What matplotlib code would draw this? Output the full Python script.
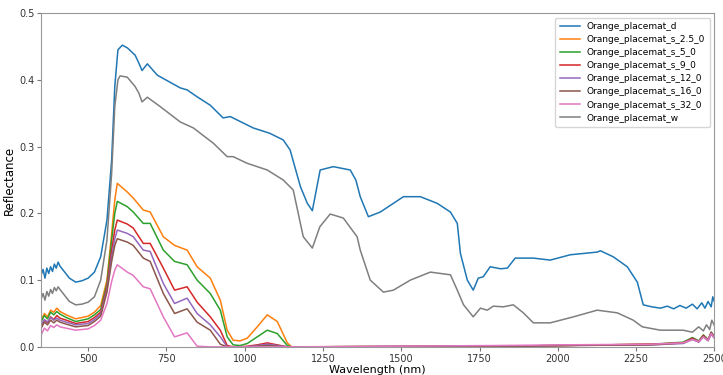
import matplotlib.pyplot as plt

# values (wavelength in nm, reflectance)
wl_d = [350, 356, 362, 368, 374, 380, 386, 392, 398, 404, 410, 420, 440, 460, 480, 500, 520, 540, 560,
        575, 585, 595, 609, 625, 650, 662, 672, 689, 721, 794, 816, 850, 890, 931, 954, 1027, 1080, 1123,
        1145, 1178, 1200, 1216, 1241, 1283, 1337, 1355, 1369, 1395, 1433, 1507, 1561, 1615, 1657, 1679,
        1689, 1711, 1730, 1746, 1762, 1784, 1817, 1839, 1864, 1922, 1976, 2040, 2126, 2136, 2177, 2222,
        2254, 2273, 2300, 2328, 2350, 2370, 2390, 2410, 2430, 2445, 2460, 2470, 2480, 2490, 2495, 2500]
refl_d = [0.108, 0.116, 0.103, 0.118, 0.110, 0.120, 0.113, 0.124, 0.118, 0.127, 0.121, 0.115, 0.103,
          0.097, 0.099, 0.103, 0.112, 0.135, 0.190, 0.280, 0.390, 0.445, 0.452, 0.448, 0.437, 0.425,
          0.414, 0.424, 0.407, 0.388, 0.385, 0.374, 0.362, 0.343, 0.345, 0.328, 0.320, 0.310, 0.295, 0.240,
          0.215, 0.204, 0.265, 0.270, 0.265, 0.250, 0.225, 0.195, 0.202, 0.225, 0.225, 0.215, 0.202, 0.185,
          0.140, 0.100, 0.085, 0.103, 0.105, 0.120, 0.117, 0.118, 0.133, 0.133, 0.130, 0.138, 0.142, 0.144,
          0.135, 0.120, 0.097, 0.063, 0.060, 0.058, 0.061, 0.057, 0.062, 0.058, 0.064, 0.057, 0.066, 0.058,
          0.068, 0.060, 0.075, 0.068]

wl_w = [350, 356, 362, 368, 374, 380, 386, 392, 398, 404, 410, 420, 440, 460, 480, 500, 520, 540, 560,
        575, 585, 595, 602, 625, 650, 662, 672, 689, 730, 794, 836, 900, 944, 963, 1008, 1072, 1123, 1155,
        1187, 1216, 1240, 1273, 1315, 1359, 1369, 1401, 1443, 1475, 1529, 1593, 1657, 1679, 1699, 1730,
        1753, 1775, 1794, 1826, 1858, 1890, 1922, 1976, 2050, 2126, 2190, 2241, 2270, 2328, 2400, 2430,
        2450, 2465, 2475, 2485, 2492, 2500]
refl_w = [0.072, 0.080, 0.070, 0.083, 0.076, 0.086, 0.080, 0.089, 0.084, 0.090, 0.086, 0.080, 0.068,
          0.063, 0.064, 0.067, 0.075, 0.100, 0.160, 0.260, 0.360, 0.400, 0.406, 0.404, 0.390, 0.380,
          0.367, 0.374, 0.360, 0.337, 0.328, 0.305, 0.285, 0.285, 0.275, 0.265, 0.250, 0.235, 0.165,
          0.148, 0.180, 0.199, 0.193, 0.165, 0.145, 0.100, 0.082, 0.085, 0.100, 0.112, 0.108, 0.085, 0.063,
          0.045, 0.058, 0.055, 0.061, 0.060, 0.063, 0.051, 0.036, 0.036, 0.045, 0.055, 0.051, 0.040, 0.030,
          0.025, 0.025, 0.022, 0.030, 0.024, 0.033, 0.026, 0.040, 0.032]

wl_s = [350, 360, 370, 380, 390, 400, 410, 430, 460, 500, 520, 540, 560, 575, 585, 593, 625, 644, 676,
        698, 740, 776, 816, 848, 890, 922, 944, 963, 985, 1008, 1040, 1072, 1104, 1136, 1150, 1800, 2000,
        2300, 2400, 2430, 2450, 2465, 2480, 2490, 2500]
refl_s_2_5 = [0.040, 0.050, 0.045, 0.055, 0.052, 0.058, 0.053, 0.048, 0.042, 0.046, 0.052, 0.062, 0.100,
              0.170, 0.220, 0.245, 0.232, 0.223, 0.205, 0.202, 0.165, 0.152, 0.145, 0.120, 0.103, 0.070,
              0.025, 0.010, 0.009, 0.013, 0.030, 0.048, 0.038, 0.006, 0.000, 0.001, 0.002, 0.004, 0.006,
              0.012, 0.008, 0.016, 0.010, 0.020, 0.014]
refl_s_5 = [0.038, 0.047, 0.042, 0.052, 0.048, 0.053, 0.049, 0.044, 0.038, 0.042, 0.048, 0.056, 0.095,
            0.160, 0.200, 0.218, 0.210, 0.202, 0.185, 0.185, 0.145, 0.128, 0.123, 0.100, 0.080, 0.055,
            0.015, 0.003, 0.002, 0.005, 0.015, 0.025, 0.020, 0.002, 0.000, 0.001, 0.002, 0.004, 0.007,
            0.014, 0.009, 0.018, 0.011, 0.022, 0.016]
refl_s_9 = [0.030, 0.040, 0.036, 0.045, 0.041, 0.047, 0.043, 0.040, 0.035, 0.038, 0.044, 0.052, 0.090,
            0.145, 0.175, 0.190, 0.184, 0.178, 0.155, 0.155, 0.118, 0.085, 0.090, 0.067, 0.045, 0.025,
            0.002, 0.000, 0.000, 0.001, 0.003, 0.006, 0.003, 0.000, 0.000, 0.001, 0.002, 0.004, 0.006,
            0.013, 0.008, 0.017, 0.010, 0.021, 0.015]
refl_s_12 = [0.033, 0.041, 0.037, 0.044, 0.040, 0.043, 0.040, 0.037, 0.033, 0.035, 0.041, 0.049, 0.086,
             0.135, 0.162, 0.175, 0.170, 0.165, 0.145, 0.143, 0.095, 0.065, 0.073, 0.050, 0.033, 0.015,
             0.000, 0.000, 0.000, 0.000, 0.002, 0.004, 0.002, 0.000, 0.000, 0.001, 0.002, 0.003, 0.005,
             0.011, 0.007, 0.015, 0.009, 0.019, 0.013]
refl_s_16 = [0.028, 0.037, 0.033, 0.040, 0.036, 0.040, 0.037, 0.034, 0.030, 0.032, 0.038, 0.046, 0.082,
             0.128, 0.152, 0.162, 0.157, 0.152, 0.133, 0.128, 0.080, 0.050, 0.057, 0.037, 0.025, 0.004,
             0.000, 0.000, 0.000, 0.000, 0.001, 0.002, 0.001, 0.000, 0.000, 0.001, 0.002, 0.003, 0.006,
             0.012, 0.008, 0.016, 0.010, 0.022, 0.015]
refl_s_32 = [0.018, 0.028, 0.024, 0.032, 0.029, 0.033, 0.030, 0.028, 0.025, 0.027, 0.032, 0.040, 0.065,
             0.098, 0.115, 0.123, 0.112, 0.107, 0.090, 0.087, 0.045, 0.015, 0.021, 0.001, 0.000, 0.000,
             0.000, 0.000, 0.000, 0.000, 0.000, 0.000, 0.000, 0.000, 0.000, 0.002, 0.003, 0.004, 0.006,
             0.011, 0.008, 0.015, 0.010, 0.020, 0.014]

series = [
    ("Orange_placemat_d", wl_d, refl_d),
    ("Orange_placemat_s_2.5_0", wl_s, refl_s_2_5),
    ("Orange_placemat_s_5_0", wl_s, refl_s_5),
    ("Orange_placemat_s_9_0", wl_s, refl_s_9),
    ("Orange_placemat_s_12_0", wl_s, refl_s_12),
    ("Orange_placemat_s_16_0", wl_s, refl_s_16),
    ("Orange_placemat_s_32_0", wl_s, refl_s_32),
    ("Orange_placemat_w", wl_w, refl_w),
]

fig = plt.figure(figsize=(7.23, 3.75), dpi=100)
ax = fig.add_axes([0.057, 0.075, 0.931, 0.89])
for name, x, y in series:
    ax.plot(x, y, label=name, lw=1.1)

ax.set_xlim(350, 2500)
ax.set_ylim(0, 0.5)
ax.set_xticks([500, 750, 1000, 1250, 1500, 1750, 2000, 2250, 2500])
ax.set_yticks([0.0, 0.1, 0.2, 0.3, 0.4, 0.5])
ax.tick_params(labelsize=7, length=3, pad=2, color='#777777', labelcolor='#333333')
for s in ax.spines.values():
    s.set_color('#999999')
ax.set_xlabel("Wavelength (nm)", fontsize=8, labelpad=1)
ax.set_ylabel("Reflectance", fontsize=8.5, labelpad=2)
ax.legend(loc='upper right', fontsize=6.5, labelspacing=0.45, handlelength=2.2, borderpad=0.5)

fig.savefig("out.png", dpi=100)
